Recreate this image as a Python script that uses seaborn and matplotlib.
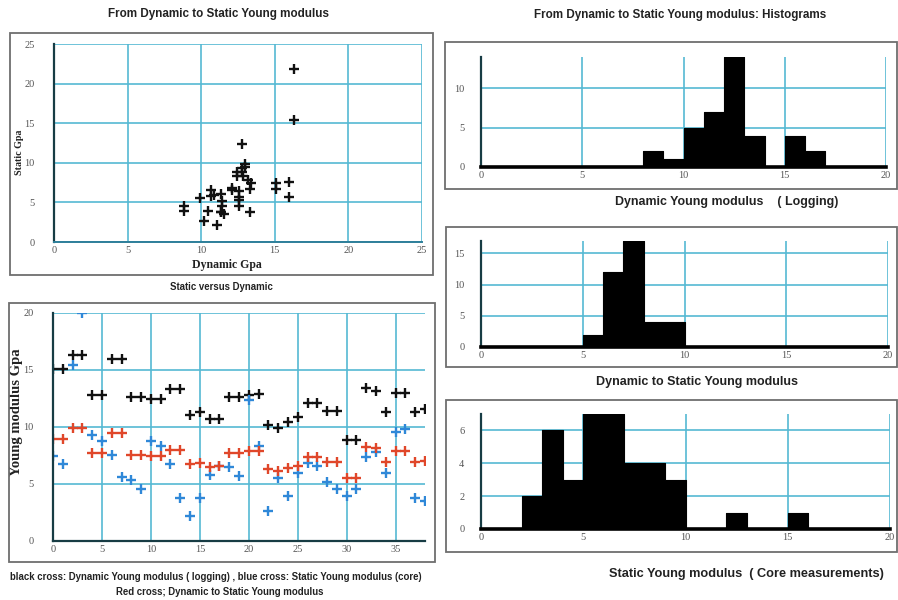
import numpy as np
import pandas as pd
import matplotlib
matplotlib.use("Agg")
import matplotlib.pyplot as plt
from matplotlib.patches import Rectangle
import seaborn as sns

sns.set_theme(style="white")
plt.rcParams['font.family'] = ['Liberation Sans', 'DejaVu Sans']

# ---------------- data ----------------
sample_index = list(range(39))
dynamic_gpa = [15.1, 15.1, 16.3, 16.3, 12.8, 12.8, 15.95, 15.95, 12.6, 12.6,
               12.46, 12.46, 13.3, 13.3, 11.05, 11.35, 10.67, 10.67, 12.6, 12.6,
               12.8, 12.87, 10.2, 9.9, 10.47, 10.85, 12.1, 12.1, 11.4, 11.4,
               8.86, 8.86, 13.4, 13.2, 11.35, 12.95, 12.95, 11.35, 11.55]
static_gpa = [7.45, 6.74, 15.45, 21.9, 9.3, 8.8, 7.54, 5.63, 5.34, 4.52,
              8.8, 8.36, 6.74, 3.81, 2.17, 3.81, 5.78, 6.55, 6.5, 5.72,
              12.37, 8.36, 2.64, 5.54, 3.93, 5.98, 6.86, 6.6, 5.19, 4.6,
              3.93, 4.6, 7.39, 7.83, 6.0, 9.53, 9.82, 3.81, 3.5]
dyn_to_static_gpa = [8.95, 8.95, 9.88, 9.88, 7.74, 7.74, 9.44, 9.44, 7.54, 7.54,
                     7.48, 7.48, 7.98, 7.98, 6.74, 6.8, 6.51, 6.57, 7.68, 7.68,
                     7.92, 7.92, 6.3, 6.16, 6.42, 6.6, 7.39, 7.39, 6.97, 6.97,
                     5.54, 5.54, 8.27, 8.12, 6.95, 7.92, 7.92, 6.9, 7.0]

titles = ["From Dynamic to Static Young modulus",
          "From Dynamic to Static Young modulus: Histograms"]
hist_labels = ["Dynamic Young modulus    ( Logging)",
               "Dynamic to Static Young modulus",
               "Static Young modulus  ( Core measurements)"]

# ---------------- styling ----------------
W, H = 898, 600
fig = plt.figure(figsize=(W / 100, H / 100), dpi=100)
fig.patch.set_facecolor("white")

GRID = "#55b9d3"
TICKC = "#555555"
BLACK = "#111111"
BLUE = "#2f88d8"
RED = "#e0472a"
SERIF = ["Liberation Serif", "DejaVu Serif"]
MS = 42
MLW = 1.7


def px_axes(x0, y0, x1, y1):
    return fig.add_axes([x0 / W, 1 - y1 / H, (x1 - x0) / W, (y1 - y0) / H])


def frame(x0, y0, x1, y1):
    fig.patches.append(Rectangle((x0 / W, 1 - y1 / H), (x1 - x0) / W, (y1 - y0) / H,
                                 transform=fig.transFigure, fill=False,
                                 edgecolor="#6e6e6e", linewidth=1.3, zorder=0))


def ftext(x, y, s, **kw):
    fig.text(x / W, 1 - y / H, s, ha="center", va="center", **kw)


def style_axes(ax, xt, yt, bottom_color, bottom_lw):
    ax.set_xticks(xt)
    ax.set_yticks(yt)
    ax.grid(True, color=GRID, linewidth=1.2)
    ax.set_axisbelow(True)
    for s in ("top", "right"):
        ax.spines[s].set_visible(False)
    ax.spines["left"].set_color("#173c44")
    ax.spines["left"].set_linewidth(1.6)
    ax.spines["bottom"].set_color(bottom_color)
    ax.spines["bottom"].set_linewidth(bottom_lw)
    ax.tick_params(length=0, pad=3, labelsize=7.5, labelcolor=TICKC)
    for lab in ax.get_xticklabels() + ax.get_yticklabels():
        lab.set_fontfamily(SERIF)
    ax.tick_params(axis="y", pad=14)
    ax.set_xlabel("")
    ax.set_ylabel("")


# ---------------- frames ----------------
frame(10, 33, 433, 275)
frame(9, 303, 435, 562)
frame(445, 42, 897, 189)
frame(446, 227, 897, 367)
frame(446, 400, 897, 552)

# ---------------- scatter: static vs dynamic ----------------
ax1 = px_axes(54, 44, 422, 242)
sns.scatterplot(x=dynamic_gpa, y=static_gpa, marker="+", s=MS, linewidth=MLW,
                color=BLACK, ax=ax1, clip_on=False)
ax1.set_xlim(0, 25)
ax1.set_ylim(0, 25)
style_axes(ax1, range(0, 26, 5), range(0, 26, 5), "#2e7f9a", 1.4)
ax1.text(-0.093, 0.455, "Static Gpa", transform=ax1.transAxes, rotation=90,
         ha="center", va="center", fontsize=7.2, fontweight="bold",
         family=SERIF, color="#222")
ax1.text(0.47, -0.115, "Dynamic Gpa", transform=ax1.transAxes,
         ha="center", va="center", fontsize=8.5, fontweight="bold",
         family=SERIF, color="#222")

# ---------------- series vs sample ----------------
ax2 = px_axes(53, 313, 425, 541)
sns.scatterplot(x=sample_index, y=dynamic_gpa, marker="+", s=MS, linewidth=MLW,
                color=BLACK, ax=ax2)
sns.scatterplot(x=sample_index, y=np.minimum(static_gpa, 20), marker="+", s=MS,
                linewidth=MLW, color=BLUE, ax=ax2)
sns.scatterplot(x=sample_index, y=dyn_to_static_gpa, marker="+", s=MS,
                linewidth=MLW, color=RED, ax=ax2)
ax2.set_xlim(0, 38)
ax2.set_ylim(0, 20)
style_axes(ax2, range(0, 36, 5), range(0, 21, 5), "#173c44", 1.6)
ax2.text(-0.097, 0.566, "Young modulus Gpa", transform=ax2.transAxes, rotation=90,
         ha="center", va="center", fontsize=10.5, fontweight="bold",
         family=SERIF, color="#222")

# ---------------- histograms ----------------
bins = np.arange(0, 21, 1)
hist_specs = [
    (dynamic_gpa, (481, 57, 886, 167), 14, range(0, 11, 5)),
    (dyn_to_static_gpa, (481, 241, 888, 347), 17, range(0, 16, 5)),
    (static_gpa, (481, 414, 890, 529), 7, range(0, 7, 2)),
]
for data, box, ytop, yt in hist_specs:
    ax = px_axes(*box)
    sns.histplot(x=data, bins=bins, element="step", fill=True, color="black",
                 alpha=1, linewidth=0.8, edgecolor="black", ax=ax)
    ax.set_xlim(0, 20)
    ax.set_ylim(0, ytop)
    style_axes(ax, range(0, 21, 5), yt, "black", 2.6)
    ax.tick_params(axis="y", pad=12)

# ---------------- texts ----------------
ftext(218, 14, titles[0], fontsize=8.4, fontweight="bold", color="#222")
ftext(680, 15, titles[1], fontsize=8.4, fontweight="bold", color="#222")
ftext(221, 287, "Static versus Dynamic", fontsize=6.9, fontweight="bold", color="#222")
ftext(216, 577, "black cross: Dynamic Young modulus ( logging) , blue cross: Static Young modulus (core)",
      fontsize=6.9, fontweight="bold", color="#222")
ftext(220, 592, "Red cross; Dynamic to Static Young modulus",
      fontsize=6.9, fontweight="bold", color="#222")
ftext(727, 202, hist_labels[0], fontsize=8.9, fontweight="bold", color="#222")
ftext(697, 382, hist_labels[1], fontsize=9.0, fontweight="bold", color="#222")
ftext(746, 574, hist_labels[2], fontsize=9.2, fontweight="bold", color="#222")

fig.savefig("out.png", dpi=100)
